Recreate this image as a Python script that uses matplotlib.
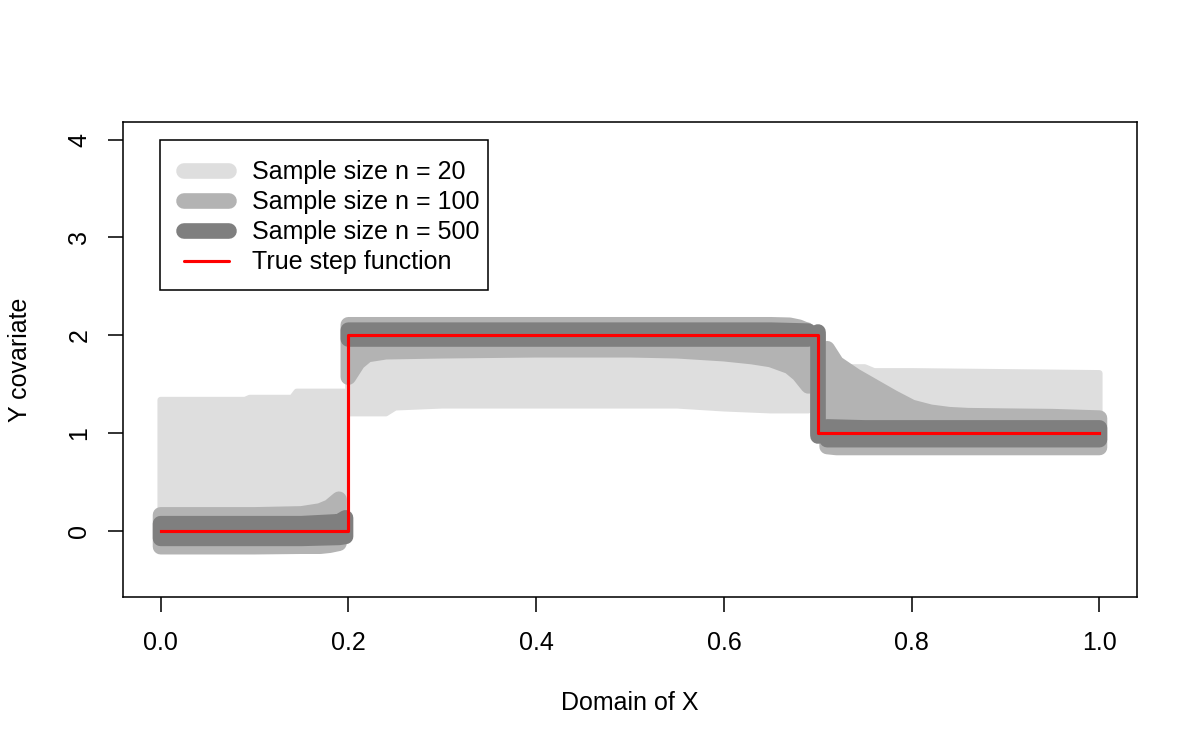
import numpy as np
import matplotlib
matplotlib.use("Agg")
import matplotlib.pyplot as plt
from matplotlib.lines import Line2D
from matplotlib.patches import Rectangle

plt.rcParams['font.family'] = ['Liberation Sans', 'DejaVu Sans']

# ---------------- data ----------------
# pointwise bands of the estimated step function, one per sample size
# n = 20
x20 = [0.0, 0.09, 0.095, 0.14, 0.145, 0.196,
       0.20, 0.24, 0.25, 0.30, 0.40, 0.50, 0.55, 0.60, 0.65, 0.69, 0.70,
       0.71, 0.75, 0.76, 0.80, 0.90, 1.00]
lo20 = [-0.20, -0.20, -0.20, -0.20, -0.20, 0.15,
        1.20, 1.20, 1.26, 1.28, 1.28, 1.28, 1.28, 1.25, 1.23, 1.23, 1.05,
        0.85, 0.85, 0.85, 0.85, 0.85, 0.85]
hi20 = [1.336, 1.336, 1.357, 1.357, 1.42, 1.42,
        2.10, 2.10, 2.10, 2.10, 2.10, 2.10, 2.10, 2.10, 2.10, 2.10, 2.00,
        1.67, 1.67, 1.63, 1.63, 1.62, 1.61]

# n = 100
x100 = [0.0, 0.05, 0.10, 0.15, 0.17, 0.18, 0.19,
        0.20, 0.21, 0.22, 0.24, 0.30, 0.40, 0.45, 0.50, 0.55, 0.60, 0.63,
        0.65, 0.67, 0.68, 0.69, 0.70, 0.71, 0.72, 0.74, 0.76, 0.78, 0.80,
        0.82, 0.84, 0.86, 0.90, 0.95, 1.00]
lo100 = [-0.165, -0.165, -0.165, -0.16, -0.16, -0.15, -0.13,
         1.57, 1.72, 1.80, 1.83, 1.84, 1.85, 1.85, 1.85, 1.84, 1.81, 1.78,
         1.75, 1.68, 1.60, 1.48, 1.00, 0.86, 0.85, 0.85, 0.85, 0.85, 0.85,
         0.85, 0.85, 0.85, 0.85, 0.85, 0.85]
hi100 = [0.16, 0.16, 0.16, 0.17, 0.20, 0.24, 0.32,
         2.105, 2.105, 2.105, 2.105, 2.105, 2.105, 2.105, 2.105, 2.105, 2.105, 2.105,
         2.105, 2.10, 2.08, 2.04, 2.00, 1.86, 1.71, 1.58, 1.47, 1.36, 1.26,
         1.21, 1.185, 1.175, 1.17, 1.165, 1.15]

# n = 500
x500 = [0.0, 0.05, 0.10, 0.15, 0.19, 0.197,
        0.20, 0.25, 0.30, 0.40, 0.50, 0.60, 0.65, 0.69, 0.70, 0.71, 0.75,
        0.80, 0.90, 1.00]
lo500 = [-0.08, -0.08, -0.08, -0.08, -0.07, -0.06,
         1.96, 1.96, 1.96, 1.96, 1.96, 1.96, 1.96, 1.96, 0.97, 0.93, 0.93,
         0.93, 0.93, 0.93]
hi500 = [0.07, 0.07, 0.07, 0.07, 0.09, 0.13,
         2.05, 2.05, 2.05, 2.05, 2.05, 2.05, 2.05, 2.04, 2.03, 1.06, 1.05,
         1.05, 1.05, 1.05]

# true step function
step_x = [0.0, 0.2, 0.7, 1.0]
step_level = [0.0, 2.0, 1.0]

labels = ["Sample size n = 20", "Sample size n = 100",
          "Sample size n = 500", "True step function"]
colors = ["#DEDEDE", "#B3B3B3", "#7F7F7F"]

# the bands are drawn piecewise, split around the two jumps
cuts = [0.1985, 0.6995, 0.7005]

# ---------------- figure ----------------
W, H = 1200, 750
fig = plt.figure(figsize=(8, 5), dpi=150)
ax = fig.add_axes([123 / W, 1 - 597 / H, (1137 - 123) / W, (597 - 122) / H])


def draw_band(x, lo, hi, color, lw):
    x = np.asarray(x, float)
    lo = np.asarray(lo, float)
    hi = np.asarray(hi, float)
    edges = [-np.inf] + cuts + [np.inf]
    for a, b in zip(edges[:-1], edges[1:]):
        m = (x >= a) & (x < b)
        if not m.any():
            continue
        xs, ls, hs = x[m], lo[m], hi[m]
        if len(xs) == 1:
            ax.plot([xs[0], xs[0]], [ls[0], hs[0]], color=color, lw=lw,
                    solid_capstyle='round', zorder=2)
            continue
        px = np.concatenate([xs, xs[::-1]])
        py = np.concatenate([hs, ls[::-1]])
        ax.fill(px, py, facecolor=color, edgecolor=color, linewidth=lw,
                joinstyle='round', zorder=2)


draw_band(x20, lo20, hi20, colors[0], 3.0)
draw_band(x100, lo100, hi100, colors[1], 7.5)
draw_band(x500, lo500, hi500, colors[2], 7.5)

sy = step_level + [step_level[-1]]
ax.step(step_x, sy, where='post', color='red', lw=1.5, zorder=5)

ax.set_xlim(-0.04, 1.04)
ax.set_ylim(-0.68, 4.18)
ax.set_xticks([0.0, 0.2, 0.4, 0.6, 0.8, 1.0])
ax.set_xticklabels(["0.0", "0.2", "0.4", "0.6", "0.8", "1.0"])
ax.set_yticks([0, 1, 2, 3, 4])
ax.set_yticklabels(["0", "1", "2", "3", "4"], rotation=90, va='center')
ax.tick_params(axis='both', length=7.2, width=0.75, labelsize=12, color='black')
ax.tick_params(axis='x', pad=9.0)
ax.tick_params(axis='y', pad=8.0)
for s in ax.spines.values():
    s.set_linewidth(0.75)
    s.set_color('black')

fig.text(630 / W, 1 - 703 / H, "Domain of X", ha='center', va='center', fontsize=12)
fig.text(20 / W, 1 - 360 / H, "Y covariate", ha='center', va='center',
         rotation=90, fontsize=12)

# ---------------- legend (drawn in figure pixel coordinates) ----------------
def fx(p):
    return p / W


def fy(p):
    return 1 - p / H


box_l, box_t, box_r, box_b = 160, 140, 488, 290
fig.add_artist(Rectangle((fx(box_l), fy(box_b)), fx(box_r - box_l), (box_b - box_t) / H,
                         transform=fig.transFigure, facecolor='white',
                         edgecolor='black', linewidth=0.75, zorder=10))
row_y = [170.5, 200.5, 231, 261]
handle_x0, handle_x1, text_x = 183.5, 228.5, 252
styles = [(colors[0], 7.5), (colors[1], 7.5), (colors[2], 7.5), ('red', 1.5)]
for (c, lw), ry, lab in zip(styles, row_y, labels):
    fig.add_artist(Line2D([fx(handle_x0), fx(handle_x1)], [fy(ry), fy(ry)],
                          transform=fig.transFigure, color=c, lw=lw,
                          solid_capstyle='round', zorder=11))
    fig.text(fx(text_x), fy(ry + 8.5), lab, ha='left', va='baseline',
             fontsize=12, zorder=12)

fig.savefig("out.png", dpi=150)
